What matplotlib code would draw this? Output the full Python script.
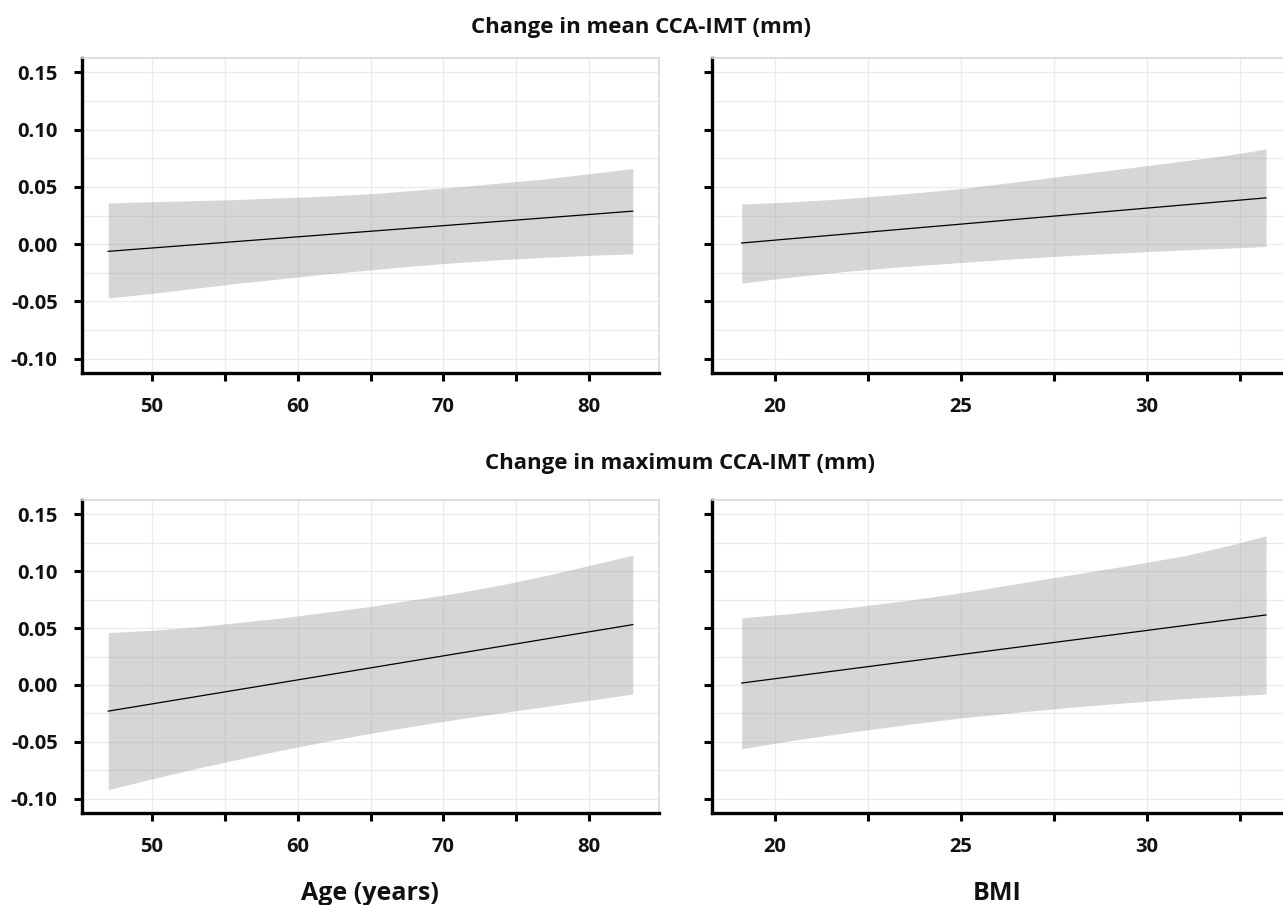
import matplotlib
matplotlib.use("Agg")
import matplotlib.pyplot as plt
import numpy as np

plt.rcParams['font.family'] = ['Open Sans', 'DejaVu Sans']
plt.rcParams['font.weight'] = 'bold'

# age panels
age_x = [47, 50, 53, 56, 59, 62, 65, 68, 71, 74, 77, 80, 83]
mean_age_hi = [0.036, 0.037, 0.038, 0.039, 0.0405, 0.042, 0.044, 0.047, 0.050, 0.0535, 0.057, 0.0615, 0.066]
mean_age_lo = [-0.047, -0.043, -0.0385, -0.034, -0.030, -0.026, -0.0225, -0.019, -0.016, -0.0135, -0.0115, -0.0098, -0.0085]
max_age_hi = [0.046, 0.048, 0.051, 0.055, 0.059, 0.064, 0.069, 0.075, 0.081, 0.088, 0.096, 0.105, 0.114]
max_age_lo = [-0.092, -0.0825, -0.0735, -0.065, -0.057, -0.0495, -0.0425, -0.036, -0.030, -0.0245, -0.019, -0.0135, -0.008]
age_fit_x = [47, 83]
mean_age_fit = [-0.0063, 0.0288]
max_age_fit = [-0.023, 0.053]

# bmi panels
bmi_x = [19.1, 20.5, 22, 23.5, 25, 26.5, 28, 29.5, 31, 32.2, 33.2]
mean_bmi_hi = [0.035, 0.037, 0.040, 0.044, 0.0485, 0.0545, 0.0605, 0.0665, 0.0727, 0.0778, 0.083]
mean_bmi_lo = [-0.034, -0.0285, -0.0235, -0.0195, -0.016, -0.0127, -0.0098, -0.0073, -0.005, -0.0035, -0.002]
max_bmi_hi = [0.059, 0.063, 0.068, 0.074, 0.081, 0.089, 0.097, 0.105, 0.1135, 0.1225, 0.131]
max_bmi_lo = [-0.056, -0.0485, -0.0415, -0.035, -0.029, -0.024, -0.0195, -0.0155, -0.012, -0.0098, -0.008]
bmi_fit_x = [19.1, 33.2]
mean_bmi_fit = [0.001, 0.0404]
max_bmi_fit = [0.0017, 0.0615]

y_ticks = [-0.10, -0.05, 0.00, 0.05, 0.10, 0.15]
y_labels = ['-0.10', '-0.05', '0.00', '0.05', '0.10', '0.15']
age_ticks = [50, 55, 60, 65, 70, 75, 80]
age_labels = ['50', '', '60', '', '70', '', '80']
bmi_ticks = [20, 22.5, 25, 27.5, 30, 32.5]
bmi_labels = ['20', '', '25', '', '30', '']

titles = ['Change in mean CCA-IMT (mm)', 'Change in maximum CCA-IMT (mm)']
xlabels = ['Age (years)', 'BMI']

W, H = 1283, 905
fig = plt.figure(figsize=(W / 100, H / 100), dpi=100)


def make_ax(l, r, t, b):
    return fig.add_axes([l / W, 1 - b / H, (r - l) / W, (b - t) / H])


def style_ax(ax, xt, xl, xlim, show_ylabels):
    ax.set_xlim(*xlim)
    ax.set_ylim(-0.1125, 0.1625)
    ax.set_xticks(xt)
    ax.set_xticklabels(xl)
    ax.set_yticks(y_ticks)
    ax.set_yticks(np.arange(-0.1, 0.151, 0.025), minor=True)
    ax.set_yticklabels(y_labels if show_ylabels else [])
    ax.grid(True, which='major', color='#ebebeb', lw=0.9)
    ax.grid(True, which='minor', axis='y', color='#ebebeb', lw=0.9)
    ax.tick_params(axis='y', which='minor', length=0)
    ax.tick_params(which='major', length=5.5, width=2.2, color='black',
                   labelsize=14.5, pad=12, labelcolor='#111111')
    ax.set_axisbelow(True)
    for s in ['left', 'bottom']:
        ax.spines[s].set_color('black')
        ax.spines[s].set_linewidth(2.4)
    for s in ['top', 'right']:
        ax.spines[s].set_color('#d9d9d9')
        ax.spines[s].set_linewidth(1.2)
    for lab in ax.get_xticklabels() + ax.get_yticklabels():
        lab.set_fontweight('bold')


rows = [
    (58, 373, mean_age_fit, mean_age_hi, mean_age_lo, mean_bmi_fit, mean_bmi_hi, mean_bmi_lo),
    (500, 813, max_age_fit, max_age_hi, max_age_lo, max_bmi_fit, max_bmi_hi, max_bmi_lo),
]

for top, bot, afit, ahi, alo, bfit, bhi, blo in rows:
    ax1 = make_ax(82, 659, top, bot)
    ax1.fill_between(age_x, alo, ahi, color='#999999', alpha=0.4, lw=0)
    ax1.plot(age_fit_x, afit, color='black', lw=0.9)
    style_ax(ax1, age_ticks, age_labels, (45.2, 84.8), True)

    ax2 = make_ax(712, 1292, top, bot)
    ax2.fill_between(bmi_x, blo, bhi, color='#999999', alpha=0.4, lw=0)
    ax2.plot(bmi_fit_x, bfit, color='black', lw=0.9)
    style_ax(ax2, bmi_ticks, bmi_labels, (18.3, 33.9), False)

fig.text(641 / W, 1 - 28 / H, titles[0], ha='center', va='center',
         fontsize=16, fontweight='bold', color='#111111')
fig.text(680 / W, 1 - 463 / H, titles[1], ha='center', va='center',
         fontsize=16, fontweight='bold', color='#111111')
fig.text(370 / W, 1 - 900 / H, xlabels[0], ha='center', va='baseline',
         fontsize=18, fontweight='bold', color='#111111')
fig.text(997 / W, 1 - 900 / H, xlabels[1], ha='center', va='baseline',
         fontsize=18, fontweight='bold', color='#111111')

fig.savefig('out.png', dpi=100)
